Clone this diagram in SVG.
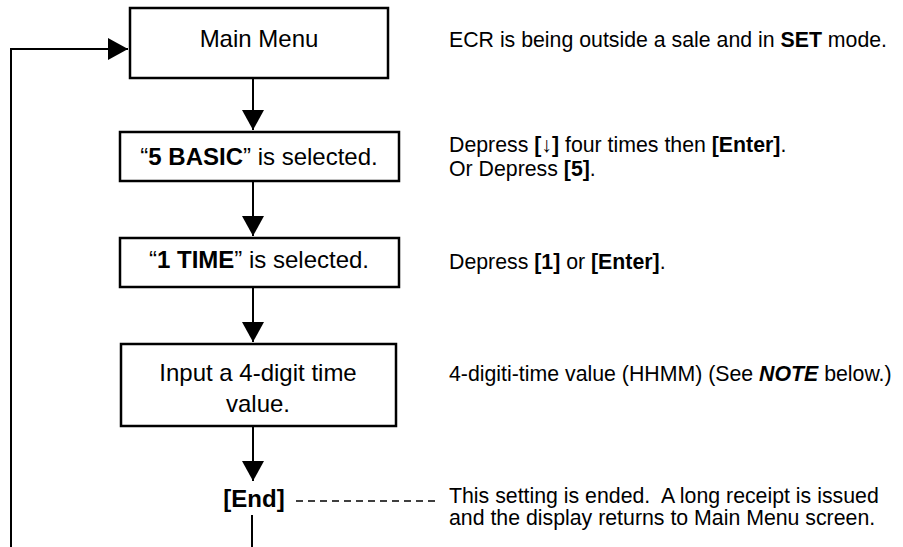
<svg xmlns="http://www.w3.org/2000/svg" width="903" height="547" viewBox="0 0 903 547">
<style>
.box{fill:#fff;stroke:#000;stroke-width:2.5}
.bt{font-family:"Liberation Sans",Arial,sans-serif;font-size:24px;fill:#000;text-anchor:middle}
.st{font-family:"Liberation Sans",Arial,sans-serif;font-size:21.3px;fill:#000;white-space:pre}
.b{font-weight:bold}
.conn{fill:none;stroke:#000;stroke-width:2}
.dash{fill:none;stroke:#000;stroke-width:1.3;stroke-dasharray:7 5}
</style>
<defs>
<marker id="ah" markerUnits="userSpaceOnUse" markerWidth="20" markerHeight="22" refX="20" refY="11" orient="auto" viewBox="0 0 20 22">
<path d="M0,0 L20,11 L0,22 z" fill="#000"/>
</marker>
</defs>
<rect width="903" height="547" fill="#fff"/>
<g id="connectors">
<path class="conn" d="M11,547 V49 H128" marker-end="url(#ah)"/>
<path class="conn" d="M253,79 V130" marker-end="url(#ah)"/>
<path class="conn" d="M253,181 V236" marker-end="url(#ah)"/>
<path class="conn" d="M253,287 V342" marker-end="url(#ah)"/>
<path class="conn" d="M253,427 V481" marker-end="url(#ah)"/>
<path class="conn" d="M252,515 V547"/>
<path class="dash" d="M296,501 H437"/>
</g>
<g id="main-menu">
<rect class="box" x="130" y="8" width="258" height="70"/>
<text class="bt" x="259" y="47">Main Menu</text>
</g>
<g id="basic">
<rect class="box" x="120" y="132" width="279" height="49"/>
<text class="bt" x="259" y="165">“<tspan class="b">5 BASIC</tspan>” is selected.</text>
</g>
<g id="time">
<rect class="box" x="120" y="238" width="279" height="49"/>
<text class="bt" x="259" y="268">“<tspan class="b">1 TIME</tspan>” is selected.</text>
</g>
<g id="input">
<rect class="box" x="121" y="344" width="275" height="82"/>
<text class="bt" x="258" y="381">Input a 4-digit time</text>
<text class="bt" x="258" y="412">value.</text>
</g>
<g id="end">
<text class="bt b" x="254" y="507">[End]</text>
</g>
<g id="notes">
<text class="st" x="449" y="47">ECR is being outside a sale and in <tspan class="b">SET</tspan> mode.</text>
<text class="st" x="449" y="152">Depress <tspan class="b">[↓]</tspan> four times then <tspan class="b">[Enter]</tspan>.</text>
<text class="st" x="449" y="176">Or Depress <tspan class="b">[5]</tspan>.</text>
<text class="st" x="449" y="269">Depress <tspan class="b">[1]</tspan> or <tspan class="b">[Enter]</tspan>.</text>
<text class="st" x="449" y="381">4-digiti-time value (HHMM) (See <tspan class="b" font-style="italic">NOTE</tspan> below.)</text>
<text class="st" x="449" y="503">This setting is ended.  A long receipt is issued</text>
<text class="st" x="449" y="525">and the display returns to Main Menu screen.</text>
</g>
</svg>
